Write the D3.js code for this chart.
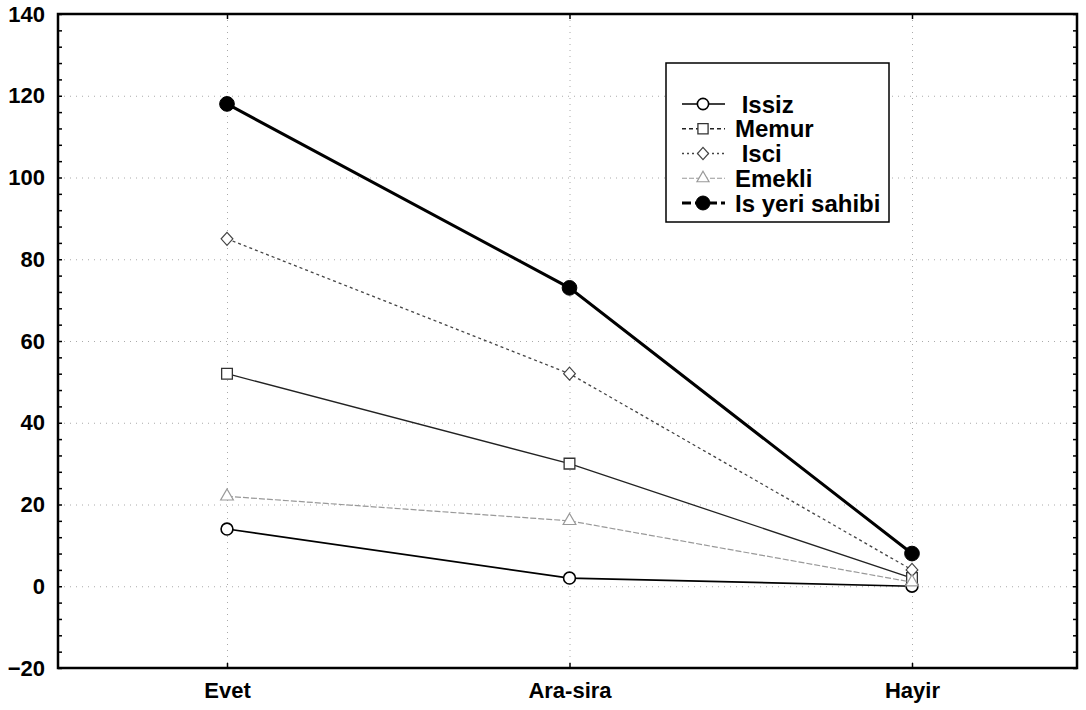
<!DOCTYPE html>
<html><head><meta charset="utf-8">
<script src="https://cdn.jsdelivr.net/npm/d3@7"></script>
<style>body{margin:0;background:#fff} text{font-family:"Liberation Sans",Arial,sans-serif}</style>
</head><body><svg id="c" width="1086" height="710"></svg>
<script>
const categories = ["Evet", "Ara-sira", "Hayir"];
const seriesNames = ["Issiz", "Memur", "Isci", "Emekli", "Is yeri sahibi"];
const issiz = [14, 2, 0];
const memur = [52, 30, 2];
const isci = [85, 52, 4];
const emekli = [22, 16, 1];
const isYeriSahibi = [118, 73, 8];
const yTicks = [-20, 0, 20, 40, 60, 80, 100, 120, 140];
const legendLabels = [" Issiz", "Memur", " Isci", "Emekli", "Is yeri sahibi"];

const svg = d3.select("#c");
const L = 58, T = 14, R = 1077, B = 668;
const x = d3.scalePoint().domain(categories).range([227, 912]);
const y = d3.scaleLinear().domain([-20, 140]).range([B, T]);

const symDiamond = {
  draw(ctx, size) {
    const r = Math.sqrt(size) * 0.62;
    const w = r * 0.9;
    ctx.moveTo(0, -r); ctx.lineTo(w, 0); ctx.lineTo(0, r); ctx.lineTo(-w, 0); ctx.closePath();
  }
};

const series = [
  {name: seriesNames[0], values: issiz, stroke: "#000", width: 1.7, dash: null, ldash: null, sym: d3.symbolCircle, size: 110, fill: "#fff", mstroke: "#000", mw: 1.6},
  {name: seriesNames[1], values: memur, stroke: "#222", width: 1.3, dash: null, ldash: "4,3", sym: d3.symbolSquare, size: 115, fill: "#fff", mstroke: "#333", mw: 1.3},
  {name: seriesNames[2], values: isci, stroke: "#444", width: 1.3, dash: "3,3", ldash: "2,3", sym: symDiamond, size: 110, fill: "#fff", mstroke: "#444", mw: 1.2},
  {name: seriesNames[3], values: emekli, stroke: "#999", width: 1.2, dash: "6,2", ldash: "5,2", sym: d3.symbolTriangle, size: 70, fill: "#fff", mstroke: "#999", mw: 1.2},
  {name: seriesNames[4], values: isYeriSahibi, stroke: "#000", width: 3, dash: null, ldash: "9,4", sym: d3.symbolCircle, size: 170, fill: "#000", mstroke: "#000", mw: 1}
];

// grid
const grid = svg.append("g").attr("stroke", "#aaa").attr("stroke-width", 1).attr("stroke-dasharray", "1,5");
grid.selectAll("line.h").data(yTicks.filter(v => v > -20 && v < 140)).join("line")
  .attr("x1", L).attr("x2", R).attr("y1", d => y(d) + 0.5).attr("y2", d => y(d) + 0.5);
grid.selectAll("line.v").data(categories).join("line")
  .attr("y1", T).attr("y2", B).attr("x1", d => x(d) + 0.5).attr("x2", d => x(d) + 0.5);

// axes labels
const fs = "22px";
const yAx = svg.append("g").attr("transform", `translate(${L},0)`)
  .call(d3.axisLeft(y).tickValues(yTicks).tickSize(0).tickPadding(13));
yAx.select(".domain").remove();
yAx.selectAll("text").attr("font-size", fs).attr("font-weight", "bold").attr("fill", "#000").style("font-family", "'Liberation Sans',Arial,sans-serif");

const xAx = svg.append("g").attr("transform", `translate(0,${B})`)
  .call(d3.axisBottom(x).tickSize(0).tickPadding(14));
xAx.select(".domain").remove();
xAx.selectAll("text").attr("font-size", fs).attr("font-weight", "bold").attr("fill", "#000").style("font-family", "'Liberation Sans',Arial,sans-serif");

// minor ticks inside
const minor = d3.range(-20, 141, 4);
const lt = svg.append("g").attr("transform", `translate(${L},0)`).call(d3.axisRight(y).tickValues(minor).tickSize(4).tickFormat(""));
lt.select(".domain").remove();
const rt = svg.append("g").attr("transform", `translate(${R},0)`).call(d3.axisLeft(y).tickValues(minor).tickSize(4).tickFormat(""));
rt.select(".domain").remove();
const bt = svg.append("g").attr("transform", `translate(0,${B})`).call(d3.axisTop(x).tickSize(5).tickFormat(""));
bt.select(".domain").remove();
const tt = svg.append("g").attr("transform", `translate(0,${T})`).call(d3.axisBottom(x).tickSize(5).tickFormat(""));
tt.select(".domain").remove();
svg.selectAll(".tick line").attr("stroke", "#000").attr("stroke-width", 1.5);

// frame
svg.append("rect").attr("x", L).attr("y", T).attr("width", R - L).attr("height", B - T)
  .attr("fill", "none").attr("stroke", "#000").attr("stroke-width", 2.5);

// lines
const line = d3.line().x((d, i) => x(categories[i])).y(d => y(d));
series.forEach(s => {
  svg.append("path").datum(s.values).attr("d", line).attr("fill", "none")
    .attr("stroke", s.stroke).attr("stroke-width", s.width).attr("stroke-dasharray", s.dash);
  svg.append("g").selectAll("path").data(s.values).join("path")
    .attr("transform", (d, i) => `translate(${x(categories[i])},${y(d)})`)
    .attr("d", d3.symbol().type(s.sym).size(s.size))
    .attr("fill", s.fill).attr("stroke", s.mstroke).attr("stroke-width", s.mw);
});

// legend
const lg = svg.append("g");
lg.append("rect").attr("x", 666).attr("y", 63).attr("width", 223).attr("height", 159)
  .attr("fill", "#fff").attr("stroke", "#000").attr("stroke-width", 1.5);
series.forEach((s, i) => {
  const cy = 104 + i * 24.75;
  lg.append("line").attr("x1", 682).attr("x2", 725).attr("y1", cy).attr("y2", cy)
    .attr("stroke", s.stroke).attr("stroke-width", s.width).attr("stroke-dasharray", s.ldash);
  lg.append("path").attr("transform", `translate(703,${cy})`)
    .attr("d", d3.symbol().type(s.sym).size(s.size * 0.9))
    .attr("fill", s.fill).attr("stroke", s.mstroke).attr("stroke-width", s.mw);
  lg.append("text").attr("x", 735).attr("y", cy).attr("dy", "0.36em")
    .attr("font-size", "24px").attr("font-weight", "bold").style("white-space", "pre").text(legendLabels[i]);
});
</script></body></html>
